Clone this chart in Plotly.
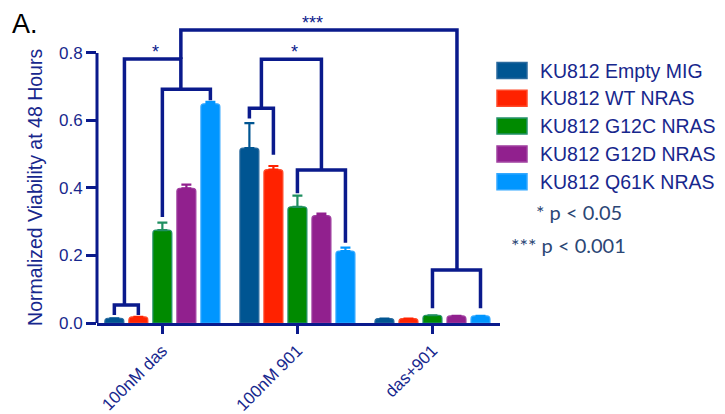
import plotly.graph_objects as go

# ---------------- data ----------------
categories = ["100nM das", "100nM 901", "das+901"]
series_names = ["KU812 Empty MIG", "KU812 WT NRAS", "KU812 G12C NRAS",
                "KU812 G12D NRAS", "KU812 Q61K NRAS"]
empty_mig = [0.014, 0.518, 0.013]
wt_nras = [0.018, 0.454, 0.013]
g12c_nras = [0.275, 0.344, 0.023]
g12d_nras = [0.399, 0.318, 0.021]
q61k_nras = [0.649, 0.213, 0.021]
empty_mig_err = [None, 0.074, None]
wt_nras_err = [None, 0.011, None]
g12c_nras_err = [0.022, 0.033, None]
g12d_nras_err = [0.011, 0.006, None]
q61k_nras_err = [0.006, 0.010, None]
y_tick_vals = [0.0, 0.2, 0.4, 0.6, 0.8]
y_tick_text = ["0.0", "0.2", "0.4", "0.6", "0.8"]
sig_notes = ["* p < 0.05", "*** p < 0.001"]

values = [empty_mig, wt_nras, g12c_nras, g12d_nras, q61k_nras]
errors = [empty_mig_err, wt_nras_err, g12c_nras_err, g12d_nras_err, q61k_nras_err]

# significance brackets: (group_l, bar_l, leg_bottom_l, group_r, bar_r, leg_bottom_r, level)
brackets = [
    (0, 0, 0.024, 0, 1, 0.024, 0.053),
    (0, 2, 0.314, 0, 4, 0.660, 0.692),
    (0, 0.42, 0.053, 0, 2.77, 0.692, 0.782),
    (0, 2.77, 0.782, 2, 3.02, 0.157, 0.868),
    (2, 2, 0.044, 2, 4, 0.044, 0.157),
    (1, 0, 0.606, 1, 1, 0.498, 0.636),
    (1, 2, 0.384, 1, 4, 0.238, 0.453),
    (1, 0.5, 0.636, 1, 3, 0.453, 0.781),
]
# star labels: (group, bar position, y, text)
stars = [(0, 1.72, 0.804, "*"), (1, 1.86, 0.804, "*"), (1, 2.63, 0.889, "***")]

# ---------------- style ----------------
colors = ["#005592", "#ff2200", "#008a00", "#91208e", "#0096ff"]
borders = ["#2a6a9e", "#ff4a2a", "#23916a", "#a040a0", "#33a8ff"]
err_colors = ["#005592", "#ff2200", "#1f8f60", "#91208e", "#0096ff"]
NAVY = "#0a1a8c"
TEXT = "#17278d"
FONT = "Liberation Sans, Arial, sans-serif"

W, H = 725, 414
ML, MR, MT, MB = 97, 225, 10, 91
BARGAP = 0.111
BARGROUPGAP = 0.21
N = len(series_names)
SLOT = (1 - BARGAP) / N
YMAX = 0.927

def px2x(px):
    return (px - ML) / (W - ML - MR)

def py2y(py):
    return (H - MB - py) / (H - MT - MB)

def bar_x(g, b):
    return g + (b - (N - 1) / 2) * SLOT

fig = go.Figure()
for i in range(N):
    fig.add_trace(go.Bar(
        x=categories, y=values[i], name=series_names[i],
        marker=dict(color=colors[i], line=dict(color=borders[i], width=1.2)),
        error_y=dict(type="data", symmetric=False, array=errors[i],
                     arrayminus=[0] * len(categories),
                     color=err_colors[i], thickness=2.2, width=5),
        showlegend=False,
    ))

shapes = []
for gl, bl, yl, gr, br, yr, lvl in brackets:
    xl, xr = bar_x(gl, bl), bar_x(gr, br)
    shapes.append(dict(type="path", xref="x", yref="y",
                       path=f"M {xl},{yl} L {xl},{lvl} L {xr},{lvl} L {xr},{yr}",
                       line=dict(color=NAVY, width=3.5)))
# y axis line (only up to 0.8)
shapes.append(dict(type="line", xref="paper", yref="y", x0=0, x1=0,
                   y0=0, y1=y_tick_vals[-1], line=dict(color=NAVY, width=3)))

annotations = []
for g, b, y, t in stars:
    annotations.append(dict(x=bar_x(g, b), y=y, xref="x", yref="y", text=t,
                            showarrow=False, font=dict(family=FONT, size=18, color=NAVY)))

# legend drawn manually
row0, step = 70.5, 27.8
for i, name in enumerate(series_names):
    cy = row0 + i * step
    shapes.append(dict(type="rect", xref="paper", yref="paper",
                       x0=px2x(497), x1=px2x(527), y0=py2y(cy + 8), y1=py2y(cy - 8),
                       fillcolor=colors[i], line=dict(color=borders[i], width=1.5)))
    annotations.append(dict(x=px2x(538), y=py2y(cy), xref="paper", yref="paper",
                            text=name, showarrow=False, xanchor="left", yanchor="middle",
                            font=dict(family=FONT, size=19.5, color=TEXT)))
annotations.append(dict(x=px2x(534), y=py2y(212), xref="paper", yref="paper",
                        text=sig_notes[0], showarrow=False, xanchor="left", yanchor="middle",
                        font=dict(family="Lato, sans-serif", size=20, color="#2b4675")))
annotations.append(dict(x=px2x(509), y=py2y(245), xref="paper", yref="paper",
                        text=sig_notes[1], showarrow=False, xanchor="left", yanchor="middle",
                        font=dict(family="Lato, sans-serif", size=20, color="#2b4675")))
# y axis title
annotations.append(dict(x=px2x(35), y=0.4, xref="paper", yref="y",
                        text="Normalized Viability at 48 Hours", textangle=-90,
                        showarrow=False, xanchor="center", yanchor="middle",
                        font=dict(family=FONT, size=19.5, color=TEXT)))
# panel label
annotations.append(dict(x=px2x(10), y=py2y(7), xref="paper", yref="paper",
                        text="A.", showarrow=False, xanchor="left", yanchor="top",
                        font=dict(family=FONT, size=27, color="black")))

fig.update_layout(
    width=W, height=H,
    margin=dict(l=ML, r=MR, t=MT, b=MB, pad=0, autoexpand=False),
    paper_bgcolor="white", plot_bgcolor="white",
    barmode="group", bargap=BARGAP, bargroupgap=BARGROUPGAP, barcornerradius=3,
    shapes=shapes, annotations=annotations,
    showlegend=False,
    xaxis=dict(range=[-0.484, 2.50], showgrid=False, zeroline=False, automargin=False,
               showline=True, linecolor=NAVY, linewidth=3,
               ticks="outside", ticklen=8, tickwidth=3, tickcolor=NAVY,
               tickangle=-45, tickfont=dict(family=FONT, size=17, color=TEXT)),
    yaxis=dict(range=[0, YMAX], showgrid=False, zeroline=False, showline=False, automargin=False,
               tickvals=y_tick_vals, ticktext=y_tick_text,
               ticks="outside", ticklen=10, tickwidth=3, tickcolor=NAVY,
               tickfont=dict(family=FONT, size=17, color=TEXT)),
)

fig.write_html("out.html", config={"displayModeBar": False},
               post_script="document.body.style.margin='0';")
